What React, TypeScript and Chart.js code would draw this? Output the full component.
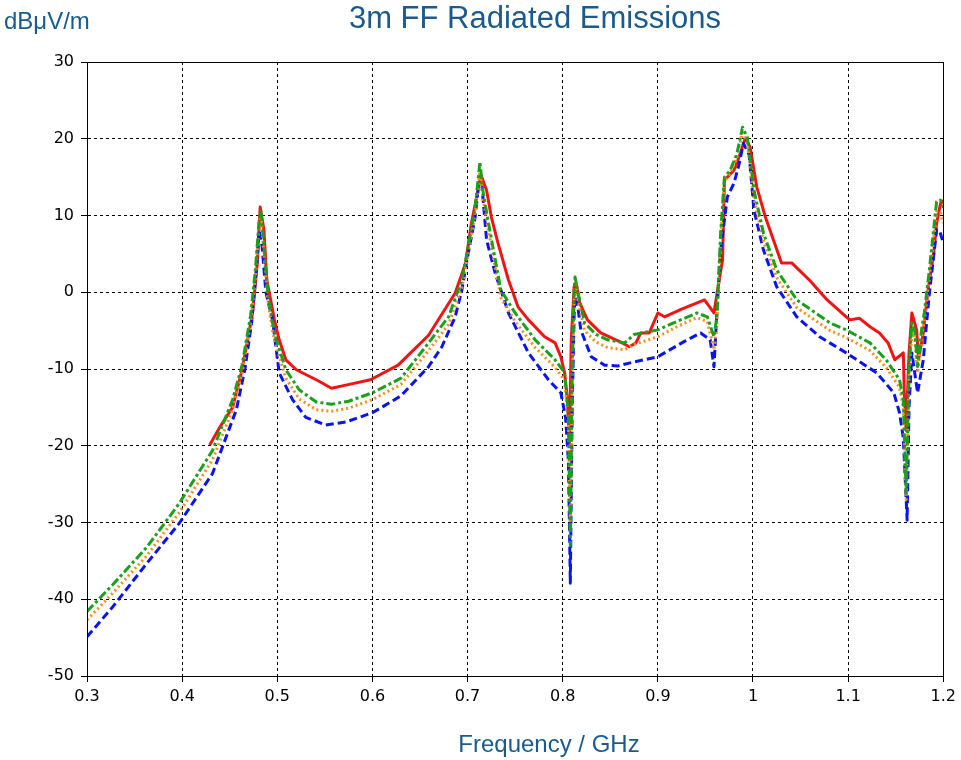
import React, { useEffect, useRef } from "react";
import { Chart, registerables } from "chart.js";
Chart.register(...registerables);

const chartTitle = "3m FF Radiated Emissions";
const yUnitLabel = "dBμV/m";
const xAxisLabel = "Frequency / GHz";

const xMin = 0.3;
const xMax = 1.2;
const xStep = 0.1;
const yMin = -50;
const yMax = 30;
const yStep = 10;

const redFreq = [0.429, 0.440, 0.453, 0.463, 0.474, 0.479, 0.482, 0.486, 0.489, 0.497, 0.502, 0.509, 0.520, 0.541, 0.557, 0.572, 0.598, 0.627, 0.659, 0.687, 0.698, 0.704, 0.711, 0.714, 0.720, 0.725, 0.732, 0.743, 0.753, 0.764, 0.781, 0.792, 0.798, 0.802, 0.805, 0.807, 0.809, 0.812, 0.814, 0.818, 0.826, 0.840, 0.861, 0.870, 0.877, 0.882, 0.891, 0.900, 0.907, 0.925, 0.949, 0.959, 0.963, 0.968, 0.970, 0.980, 0.985, 0.992, 0.997, 1.004, 1.013, 1.030, 1.041, 1.060, 1.078, 1.098, 1.102, 1.112, 1.123, 1.133, 1.142, 1.149, 1.158, 1.159, 1.161, 1.164, 1.167, 1.172, 1.174, 1.179, 1.184, 1.190, 1.193, 1.197, 1.200];
const redLevel = [-19.9, -17.5, -15.0, -10.1, -2.7, 3.8, 11.1, 8.1, 1.6, -3.6, -6.2, -8.8, -10.1, -11.4, -12.5, -12.1, -11.4, -9.5, -5.6, -0.1, 3.8, 9.0, 13.3, 15.3, 13.3, 9.8, 6.4, 1.6, -1.9, -3.6, -5.8, -6.6, -8.4, -10.5, -14.0, -19.7, -6.2, 0.7, 1.2, -1.4, -3.6, -5.3, -6.5, -7.1, -6.6, -5.3, -5.3, -2.7, -3.2, -2.2, -1.0, -2.7, 0.5, 4.2, 14.6, 15.9, 17.5, 20.1, 18.9, 13.7, 9.8, 3.8, 3.8, 1.5, -1.0, -3.2, -3.6, -3.4, -4.5, -5.3, -6.6, -8.8, -7.9, -13.1, -18.0, -8.0, -2.7, -4.9, -8.8, -5.3, 0.3, 5.1, 9.0, 11.5, 12.0];

const greenFreq = [0.300, 0.327, 0.363, 0.397, 0.432, 0.453, 0.463, 0.472, 0.477, 0.481, 0.483, 0.486, 0.490, 0.495, 0.499, 0.509, 0.523, 0.541, 0.557, 0.575, 0.600, 0.630, 0.659, 0.680, 0.694, 0.700, 0.708, 0.713, 0.716, 0.722, 0.735, 0.750, 0.771, 0.792, 0.802, 0.806, 0.808, 0.810, 0.812, 0.813, 0.816, 0.823, 0.835, 0.847, 0.865, 0.875, 0.900, 0.920, 0.941, 0.952, 0.959, 0.962, 0.966, 0.970, 0.976, 0.983, 0.989, 0.994, 1.001, 1.011, 1.025, 1.046, 1.081, 1.098, 1.123, 1.140, 1.154, 1.158, 1.161, 1.164, 1.167, 1.170, 1.173, 1.177, 1.180, 1.185, 1.193, 1.197, 1.200];
const greenLevel = [-41.6, -38.1, -33.2, -27.5, -20.6, -14.0, -9.5, -3.0, 3.0, 9.5, 10.5, 6.0, 0.0, -4.0, -6.2, -10.1, -12.7, -14.3, -14.6, -14.2, -13.1, -11.2, -6.6, -3.2, 1.6, 5.5, 11.1, 17.0, 13.3, 9.0, 0.3, -2.7, -6.2, -8.8, -10.5, -16.0, -33.0, -10.0, 0.0, 2.0, 0.0, -4.0, -5.5, -6.2, -6.6, -5.5, -4.9, -3.8, -2.7, -3.2, -5.8, -3.2, 7.7, 15.0, 15.9, 18.0, 21.5, 20.2, 13.3, 7.7, 2.9, -1.0, -4.0, -4.9, -6.6, -8.8, -11.4, -14.0, -26.2, -10.0, -4.0, -5.0, -9.7, -5.0, -2.7, 2.5, 11.8, 12.0, 11.0];

const orangeFreq = [0.300, 0.327, 0.363, 0.397, 0.432, 0.453, 0.463, 0.472, 0.477, 0.481, 0.483, 0.486, 0.490, 0.495, 0.500, 0.509, 0.523, 0.541, 0.557, 0.575, 0.600, 0.630, 0.659, 0.680, 0.694, 0.700, 0.708, 0.713, 0.716, 0.722, 0.735, 0.750, 0.771, 0.792, 0.802, 0.806, 0.808, 0.810, 0.812, 0.813, 0.816, 0.823, 0.835, 0.847, 0.865, 0.875, 0.900, 0.920, 0.941, 0.952, 0.959, 0.962, 0.966, 0.970, 0.976, 0.983, 0.989, 0.994, 1.001, 1.011, 1.025, 1.046, 1.081, 1.098, 1.123, 1.140, 1.154, 1.158, 1.161, 1.164, 1.167, 1.170, 1.173, 1.177, 1.180, 1.185, 1.193, 1.197, 1.200];
const orangeLevel = [-42.7, -39.2, -34.3, -28.7, -21.8, -15.3, -10.5, -4.0, 2.0, 9.0, 10.0, 5.0, -1.0, -5.0, -7.5, -11.2, -13.9, -15.3, -15.5, -15.1, -14.0, -12.0, -7.6, -4.2, 0.6, 4.6, 10.3, 16.0, 12.5, 8.0, -0.7, -3.8, -7.2, -9.8, -11.5, -17.0, -31.0, -11.0, -1.0, 1.0, -1.0, -5.0, -6.5, -7.2, -7.5, -6.8, -5.8, -4.5, -3.3, -3.8, -7.5, -4.0, 7.0, 14.5, 15.5, 17.5, 20.8, 19.5, 12.3, 6.7, 1.9, -2.0, -5.0, -5.9, -7.6, -9.8, -12.4, -15.0, -27.0, -11.0, -5.0, -6.0, -10.5, -6.0, -3.7, 1.5, 10.5, 10.5, 9.0];

const blueFreq = [0.300, 0.327, 0.363, 0.397, 0.432, 0.457, 0.466, 0.473, 0.478, 0.481, 0.484, 0.488, 0.495, 0.502, 0.516, 0.530, 0.551, 0.572, 0.600, 0.630, 0.659, 0.673, 0.687, 0.694, 0.700, 0.708, 0.711, 0.715, 0.720, 0.729, 0.743, 0.764, 0.785, 0.798, 0.803, 0.806, 0.808, 0.810, 0.812, 0.813, 0.816, 0.819, 0.830, 0.844, 0.858, 0.871, 0.900, 0.928, 0.945, 0.955, 0.959, 0.962, 0.966, 0.973, 0.980, 0.985, 0.990, 0.996, 1.001, 1.011, 1.025, 1.046, 1.070, 1.098, 1.109, 1.130, 1.148, 1.154, 1.158, 1.162, 1.164, 1.167, 1.173, 1.179, 1.185, 1.193, 1.196, 1.200];
const blueLevel = [-44.9, -41.0, -35.3, -30.1, -23.6, -15.3, -10.0, -4.0, 3.0, 8.0, 6.0, 0.0, -3.6, -10.5, -14.0, -16.3, -17.3, -16.9, -15.7, -13.5, -9.7, -7.1, -3.2, 0.3, 4.6, 9.8, 13.3, 14.0, 6.8, 2.5, -2.7, -7.9, -11.4, -13.1, -16.3, -22.0, -37.9, -15.0, -3.0, -0.6, -2.0, -4.9, -8.4, -9.5, -9.6, -9.2, -8.4, -6.4, -5.3, -6.2, -9.7, -2.7, 5.5, 12.4, 14.2, 16.5, 19.4, 17.9, 10.7, 5.5, 0.7, -3.2, -5.8, -7.9, -8.8, -10.5, -13.1, -15.7, -19.0, -29.7, -15.0, -7.9, -13.1, -8.8, -0.6, 8.1, 8.1, 6.4];

const TEXT_BLUE = "#1a5a8c";

export default function App() {
  const ref = useRef<HTMLCanvasElement>(null);
  useEffect(() => {
    const toPts = (f: number[], v: number[]) => f.map((x, i) => ({ x, y: v[i] }));
    const decor = {
      id: "decor",
      afterDraw(chart: any) {
        const { ctx, chartArea: a } = chart;
        ctx.save();
        ctx.strokeStyle = "#000";
        ctx.lineWidth = 1;
        ctx.setLineDash([]);
        ctx.strokeRect(Math.round(a.left) + 0.5, Math.round(a.top) + 0.5, Math.round(a.right - a.left), Math.round(a.bottom - a.top));
        ctx.fillStyle = TEXT_BLUE;
        ctx.textBaseline = "middle";
        ctx.textAlign = "center";
        ctx.font = '31px "Liberation Sans", Arial, sans-serif';
        ctx.fillText(chartTitle, 535, 19);
        ctx.textAlign = "left";
        ctx.font = '24px "Liberation Sans", Arial, sans-serif';
        ctx.fillText(yUnitLabel, 4, 22);
        ctx.textAlign = "center";
        ctx.fillText(xAxisLabel, 549, 745);
        ctx.restore();
      },
    };
    const gridCommon = {
      color: "#000",
      lineWidth: 1,
      drawTicks: true,
      tickLength: 6,
      tickColor: "#000",
      tickBorderDash: [],
    };
    const common = { pointRadius: 0, fill: false, tension: 0, borderWidth: 3, borderJoinStyle: "round" as const };
    const chart = new Chart(ref.current!, {
      type: "line",
      data: {
        datasets: [
          { label: "green", data: toPts(greenFreq, greenLevel), borderColor: "#1aa01a", borderDash: [9, 3, 3, 3], ...common },
          { label: "orange", data: toPts(orangeFreq, orangeLevel), borderColor: "#ff8a1c", borderDash: [2, 3], ...common },
          { label: "blue", data: toPts(blueFreq, blueLevel), borderColor: "#0a14f0", borderDash: [8, 4], ...common },
          { label: "red", data: toPts(redFreq, redLevel), borderColor: "#f01414", ...common },
        ],
      },
      options: {
        responsive: false,
        animation: false,
        layout: { padding: { top: 62, right: 14, left: 0, bottom: 0 } },
        plugins: { legend: { display: false }, title: { display: false }, tooltip: { enabled: false } },
        scales: {
          x: {
            type: "linear",
            min: xMin,
            max: xMax,
            afterFit: (s: any) => { s.height = 84; },
            ticks: {
              stepSize: xStep,
              color: "#000",
              padding: 5,
              maxRotation: 0,
              font: { family: '"DejaVu Sans", sans-serif', size: 16 },
              callback: (v: any) => String(parseFloat(Number(v).toFixed(2))),
            },
            grid: gridCommon,
            border: { display: true, color: "#000", width: 1, dash: [3, 3] },
          },
          y: {
            type: "linear",
            min: yMin,
            max: yMax,
            afterFit: (s: any) => { s.width = 87; },
            ticks: {
              stepSize: yStep,
              color: "#000",
              padding: 7,
              font: { family: '"DejaVu Sans", sans-serif', size: 16 },
            },
            grid: gridCommon,
            border: { display: true, color: "#000", width: 1, dash: [3, 3] },
          },
        },
      },
      plugins: [decor],
    });
    return () => chart.destroy();
  }, []);
  return (
    <div style={{ position: "absolute", left: 0, top: 0, width: 961, height: 760, background: "#fff" }}>
      <canvas ref={ref} width={961} height={760} />
    </div>
  );
}
